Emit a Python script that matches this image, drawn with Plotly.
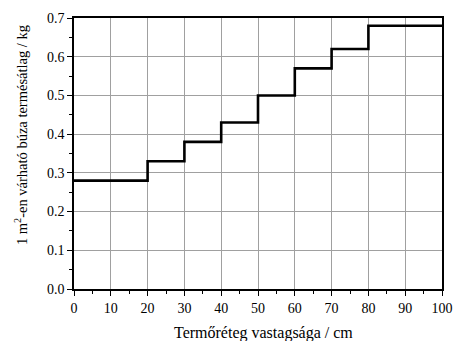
import plotly.graph_objects as go

x_edges = [0, 20, 30, 40, 50, 60, 70, 80, 100]
yield_kg = [0.28, 0.33, 0.38, 0.43, 0.50, 0.57, 0.62, 0.68, 0.68]
x_ticks = [0, 10, 20, 30, 40, 50, 60, 70, 80, 90, 100]
y_ticks = [0.0, 0.1, 0.2, 0.3, 0.4, 0.5, 0.6, 0.7]
x_title = "Termőréteg vastagsága / cm"
y_title = "1 m<sup>2</sup>-en várható búza termésátlag / kg"

fig = go.Figure()
fig.add_trace(go.Scatter(x=x_edges, y=yield_kg, mode="lines", line_shape="hv",
                         line=dict(color="black", width=2.6), showlegend=False))

fam = "Liberation Serif, Times New Roman, serif"
tick_font = dict(family=fam, size=14, color="black")
fig.update_layout(
    width=453, height=341,
    margin=dict(l=74, r=11, t=18, b=52),
    paper_bgcolor="white", plot_bgcolor="white",
    font=tick_font,
)
common = dict(
    showgrid=True, gridcolor="#a0a0a0", gridwidth=1,
    showline=True, linecolor="black", linewidth=1.5, mirror=True,
    ticks="outside", ticklen=5, tickcolor="black", tickwidth=1,
    zeroline=False, automargin=False, tickfont=tick_font,
)
fig.update_xaxes(
    range=[0, 100], tickvals=x_ticks, ticktext=[str(v) for v in x_ticks],
    minor=dict(ticks="outside", ticklen=3, dtick=5, tickcolor="black", showgrid=False),
    **common,
)
fig.update_yaxes(
    range=[0, 0.7], tickvals=y_ticks, ticktext=[f"{v:.1f}" for v in y_ticks],
    minor=dict(ticks="outside", ticklen=3, dtick=0.05, tickcolor="black", showgrid=False),
    **common,
)
fig.add_annotation(text=x_title, xref="paper", yref="paper", x=0.514, y=-0.162,
                   xanchor="center", yanchor="middle", showarrow=False,
                   font=dict(family=fam, size=16, color="black"))
fig.add_annotation(text=y_title, xref="paper", yref="paper", x=-0.144, y=0.568,
                   xanchor="center", yanchor="middle", textangle=-90, showarrow=False,
                   font=dict(family=fam, size=14.5, color="black"))
fig.write_html("out.html", config={"displayModeBar": False},
               post_script="document.body.style.margin='0';")
